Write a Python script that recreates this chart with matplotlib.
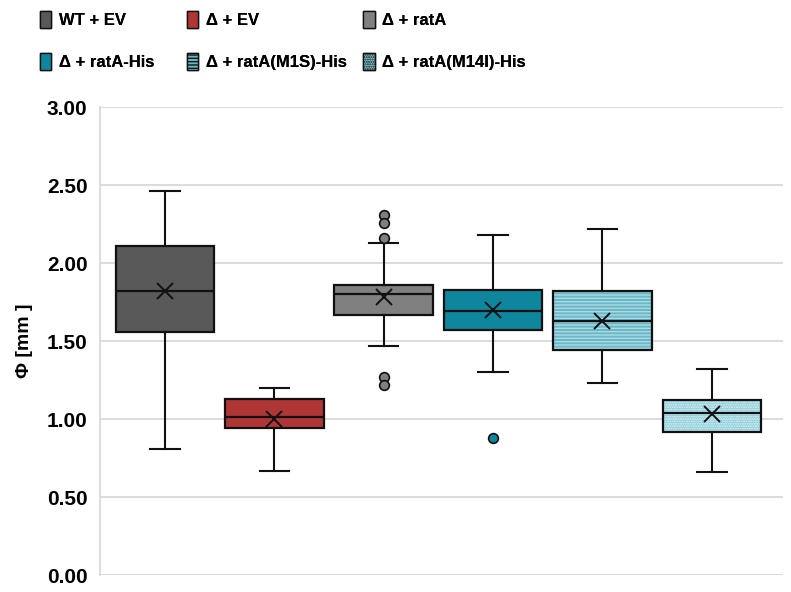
import matplotlib.pyplot as plt
from matplotlib.patches import PathPatch, Patch

plt.rcParams['font.family'] = ['Liberation Sans', 'DejaVu Sans']
plt.rcParams['font.weight'] = 'bold'
plt.rcParams['hatch.linewidth'] = 1.0

# values
groups = ['WT + EV', '\u0394 + EV', '\u0394 + ratA', '\u0394 + ratA-His',
          '\u0394 + ratA(M1S)-His', '\u0394 + ratA(M14I)-His']
whislo = [0.81, 0.67, 1.47, 1.30, 1.23, 0.66]
q1 = [1.56, 0.94, 1.67, 1.57, 1.44, 0.92]
med = [1.82, 1.01, 1.80, 1.69, 1.63, 1.04]
q3 = [2.11, 1.13, 1.86, 1.83, 1.82, 1.12]
whishi = [2.46, 1.20, 2.13, 2.18, 2.22, 1.32]
means = [1.82, 1.00, 1.78, 1.70, 1.63, 1.03]
fliers = [[], [], [2.31, 2.26, 2.16, 1.27, 1.22], [0.88], [], []]

colors = ['#595959', '#B03636', '#808080', '#0E879E', '#6AB7C6', '#86CAD8']
hatches = [None, None, None, None, '-----', '.......']
hatch_cols = [None, None, None, None, '#AADBE4', '#E6F5F8']

stats = []
for i in range(len(groups)):
    stats.append(dict(whislo=whislo[i], q1=q1[i], med=med[i], q3=q3[i],
                      whishi=whishi[i], mean=means[i], fliers=fliers[i]))

fig = plt.figure(figsize=(7.91, 5.92), dpi=100)
ax = fig.add_axes([0.1264, 0.0287, 0.8634, 0.7903])

pos = list(range(len(groups)))
bp = ax.bxp(stats, positions=pos, widths=0.9, capwidths=0.27, patch_artist=True,
            showmeans=True, zorder=3,
            boxprops=dict(linewidth=1.6, edgecolor='#111111'),
            medianprops=dict(color='#111111', linewidth=1.6),
            whiskerprops=dict(color='#111111', linewidth=1.5),
            capprops=dict(color='#111111', linewidth=1.5),
            meanprops=dict(marker='x', markeredgecolor='#111111', markersize=11,
                           markeredgewidth=1.4))

for i, box in enumerate(bp['boxes']):
    box.set_facecolor(colors[i])
    if hatches[i]:
        box.set_edgecolor(hatch_cols[i])
        box.set_hatch(hatches[i])
        box.set_linewidth(0)
        ax.add_patch(PathPatch(box.get_path(), facecolor='none', edgecolor='#111111',
                               linewidth=1.6, zorder=3.5))
for i, fl in enumerate(bp['fliers']):
    fl.set(marker='o', markerfacecolor=colors[i], markeredgecolor='#111111',
           markersize=7, markeredgewidth=1.2)

ax.set_xlim(-0.594, 5.65)
ax.set_ylim(0, 3)
ax.set_yticks([0, 0.5, 1.0, 1.5, 2.0, 2.5, 3.0])
ax.set_yticklabels(['%.2f' % v for v in ax.get_yticks()], fontsize=15, fontweight='bold')
ax.set_xticks([])
ax.tick_params(axis='y', length=0, pad=9)
ax.grid(axis='y', color='#D9D9D9', linewidth=1.3, zorder=0)
ax.set_axisbelow(True)
for s in ['top', 'right', 'bottom']:
    ax.spines[s].set_visible(False)
ax.spines['left'].set_color('#D9D9D9')
ax.spines['left'].set_linewidth(1.3)
ax.set_ylabel('\u03a6 [mm ]', fontsize=14, fontweight='bold', labelpad=10)

handles = []
for i in range(len(groups)):
    handles.append(Patch(facecolor=colors[i], edgecolor='#111111', linewidth=1.0,
                         hatch=hatches[i], label=groups[i]))

# legend: three fixed columns, two rows (row-wise order)
col_x = [0.031, 0.217, 0.44]
for c in range(3):
    leg = fig.legend(handles=[handles[c], handles[c + 3]], loc='upper left',
                     bbox_to_anchor=(col_x[c], 1.007), frameon=False,
                     prop=dict(weight='bold', size=12),
                     handlelength=0.7, handleheight=1.25,
                     handletextpad=0.45, labelspacing=1.45)
    fig.add_artist(leg)

fig.savefig('out.png', dpi=100)
